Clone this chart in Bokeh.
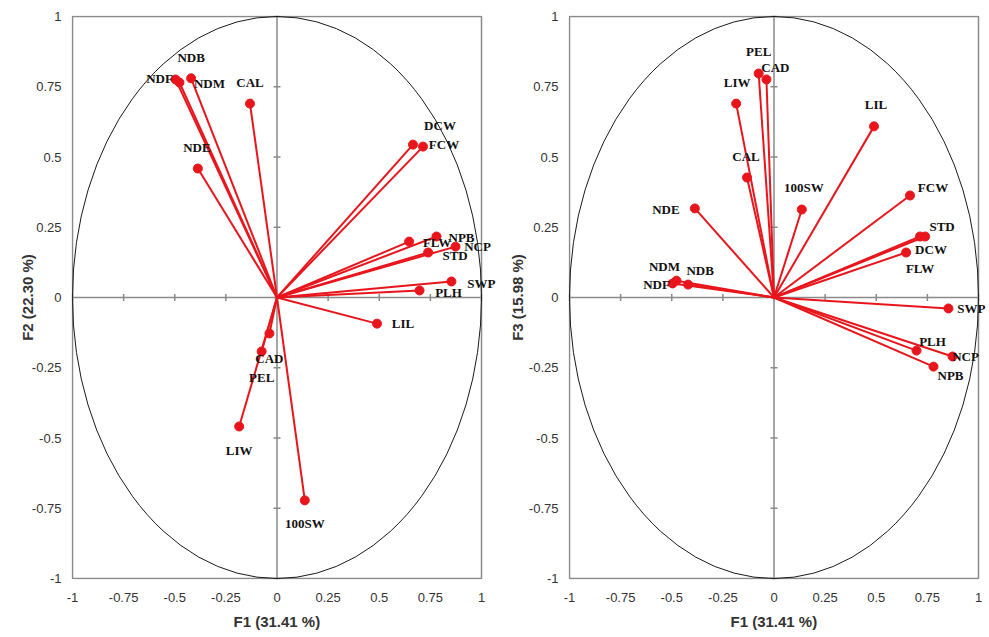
import math
from bokeh.plotting import figure
from bokeh.layouts import row
from bokeh.models import (Range1d, FixedTicker, ColumnDataSource, LabelSet,
                          Span, BoxAnnotation, Title)
from bokeh.embed import file_html
from bokeh.resources import INLINE

# ---- data ----
variables = ["NDF", "NDM", "NDB", "CAL", "NDE", "FCW", "DCW", "FLW", "NPB",
             "NCP", "STD", "SWP", "PLH", "LIL", "CAD", "PEL", "LIW", "100SW"]
f1 = [-0.496, -0.477, -0.420, -0.132, -0.387, 0.665, 0.714, 0.646, 0.780,
      0.873, 0.739, 0.853, 0.697, 0.489, -0.037, -0.075, -0.185, 0.136]
f2 = [0.776, 0.765, 0.780, 0.690, 0.459, 0.544, 0.537, 0.199, 0.217,
      0.181, 0.160, 0.057, 0.025, -0.093, -0.128, -0.192, -0.459, -0.722]
f3 = [0.050, 0.060, 0.046, 0.427, 0.317, 0.363, 0.217, 0.160, -0.246,
      -0.210, 0.217, -0.039, -0.189, 0.609, 0.776, 0.797, 0.690, 0.313]

tick_values = [-1, -0.75, -0.5, -0.25, 0, 0.25, 0.5, 0.75, 1]
tick_labels = ["-1", "-0.75", "-0.5", "-0.25", "0", "0.25", "0.5", "0.75", "1"]

x_title = "F1 (31.41 %)"
y_title_left = "F2 (22.30 %)"
y_title_right = "F3 (15.98 %)"

# ---- label placement (pixel offsets: right, up) ----
offsets_left = {
    "NDF": (-16, 1), "NDM": (30, -1), "NDB": (0, 21), "CAL": (0, 21),
    "NDE": (-1, 21), "FCW": (31, 0), "DCW": (17, 21), "FLW": (28, -1),
    "NPB": (25, -1), "NCP": (22, 0), "STD": (27, -3), "SWP": (30, -2),
    "PLH": (29, -2), "LIL": (26, 0), "CAD": (0, -25), "PEL": (0, -26),
    "LIW": (0, -24), "100SW": (0, -23),
}
offsets_right = {
    "NDF": (-16, -1), "NDM": (-12, 14), "NDB": (12, 14), "CAL": (-1, 21),
    "NDE": (-29, -1), "FCW": (23, 8), "DCW": (11, -13), "FLW": (14, -16),
    "NPB": (17, -9), "NCP": (13, 0), "STD": (17, 10), "SWP": (23, 0),
    "PLH": (16, 9), "LIL": (2, 22), "CAD": (9, 12), "PEL": (0, 22),
    "LIW": (1, 21), "100SW": (2, 22),
}

RED = "#e8161c"
GREY = "#8a8a8a"
TXT = "#333333"
SX = 204.5   # px per unit, horizontal
SY = 281.0   # px per unit, vertical


def make_panel(xs, ys, ytitle, offsets, border_left, extra_right, ytitle_standoff):
    frame_w = round(2 * SX) + 1 + extra_right
    frame_h = round(2 * SY) + 2
    top, bottom = 15, 57
    p = figure(output_backend="svg", toolbar_location=None,
               width=border_left + frame_w, height=top + frame_h + bottom,
               x_range=Range1d(-1 - 1 / SX, 1 + extra_right / SX),
               y_range=Range1d(-1 - 1 / SY, 1 + 1 / SY),
               min_border_left=border_left, min_border_right=0,
               min_border_top=top, min_border_bottom=bottom)
    p.grid.visible = False
    p.outline_line_color = None
    p.background_fill_color = "white"
    p.border_fill_color = "white"

    overrides = {v: t for v, t in zip(tick_values, tick_labels)}
    for ax in (p.xaxis[0], p.yaxis[0]):
        ax.ticker = FixedTicker(ticks=tick_values)
        ax.major_label_overrides = overrides
        ax.minor_tick_line_color = None
        ax.major_tick_line_color = None
        ax.major_tick_in = 0
        ax.major_tick_out = 0
        ax.axis_line_color = None
        ax.major_label_text_font = "Liberation Sans"
        ax.major_label_text_font_size = "13px"
        ax.major_label_text_color = TXT
        ax.axis_label_text_font = "Liberation Sans"
        ax.axis_label_text_font_style = "bold"
        ax.axis_label_text_font_size = "15px"
        ax.axis_label_text_color = TXT
    p.yaxis.axis_label = ytitle
    p.xaxis.major_label_standoff = 13
    p.yaxis.major_label_standoff = 10
    p.yaxis.axis_label_standoff = ytitle_standoff

    t = Title(text=x_title, align="left", offset=162, standoff=13,
              text_font="Liberation Sans", text_font_style="bold",
              text_font_size="15px", text_color=TXT)
    p.add_layout(t, "below")

    # plot box
    p.add_layout(BoxAnnotation(left=-1, right=1, bottom=-1, top=1,
                               fill_color=None, fill_alpha=0,
                               line_color=GREY, line_alpha=1,
                               line_width=1.5, level="underlay"))
    # zero lines
    p.add_layout(Span(location=0, dimension="height", line_color=GREY,
                      line_width=1.5, level="underlay"))
    p.add_layout(BoxAnnotation(left=-1, right=1, bottom=0, top=0,
                               fill_color=None, fill_alpha=0,
                               line_color=GREY, line_alpha=1,
                               line_width=1.5, level="underlay"))
    # tick marks on zero lines
    p.scatter(x=tick_values, y=[0] * len(tick_values), marker="dash",
              angle=math.pi / 2, size=7, line_color=GREY, line_width=1.5)
    p.scatter(x=[0] * len(tick_values), y=tick_values, marker="dash",
              size=7, line_color=GREY, line_width=1.5)

    # correlation circle
    p.ellipse(x=0, y=0, width=2, height=2, fill_color=None,
              line_color="#1a1a1a", line_width=1)

    src = ColumnDataSource(dict(
        name=variables, x=xs, y=ys,
        x0=[0] * len(xs), y0=[0] * len(xs),
        dx=[offsets[n][0] for n in variables],
        dy=[offsets[n][1] for n in variables],
    ))
    p.segment(x0="x0", y0="y0", x1="x", y1="y", source=src,
              line_color=RED, line_width=2)
    p.scatter(x="x", y="y", source=src, size=9, fill_color=RED,
              line_color=RED)
    labels = LabelSet(x="x", y="y", text="name", source=src,
                      x_offset="dx", y_offset="dy",
                      text_align="center", text_baseline="middle",
                      text_font="Liberation Serif", text_font_style="bold",
                      text_font_size="13px", text_color="#111111")
    p.add_layout(labels)
    return p


left = make_panel(f1, f2, y_title_left, offsets_left, 71, 22, -7)
right = make_panel(f1, f3, y_title_right, offsets_right, 65, 10, 0)

layout = row(left, right)
open("out.html", "w").write(file_html(layout, INLINE))
